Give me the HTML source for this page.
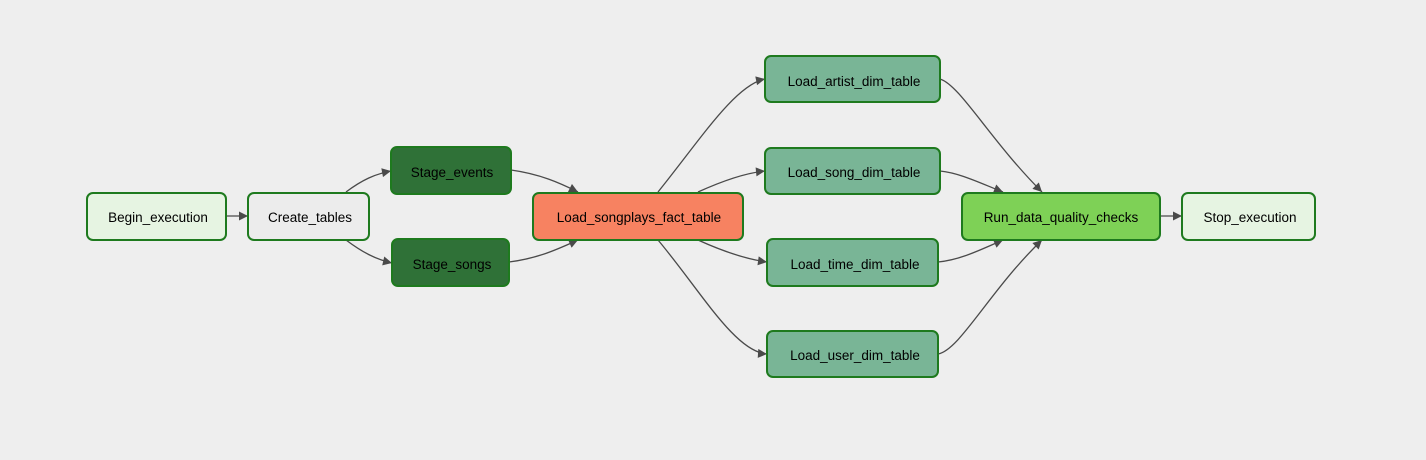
<!DOCTYPE html>
<html><head><meta charset="utf-8"><style>
html,body{margin:0;padding:0;background:#eeeeee;}
svg{display:block;}
text{font-family:"Liberation Sans",Arial,sans-serif;font-size:13.5px;fill:#000;}
</style></head><body>
<svg width="1426" height="460" viewBox="0 0 1426 460" xmlns="http://www.w3.org/2000/svg">
<defs>
<marker id="a" viewBox="0 0 10 10" refX="10" refY="5" markerWidth="10" markerHeight="9" markerUnits="userSpaceOnUse" orient="auto">
<path d="M0,0 L10,5 L0,10 z" fill="#4a4a4a"/></marker>
</defs>
<rect width="1426" height="460" fill="#eeeeee"/>
<g fill="none" stroke="#4a4a4a" stroke-width="1.3" marker-end="url(#a)">
<path d="M226,216 L248,216"/>
<path d="M346,192 C362,180 375,174 391,171"/>
<path d="M346,240 C362,252 375,259 392,263"/>
<path d="M511,170 C540,174 560,183 578,192"/>
<path d="M509,262 C540,258 560,248 578,240"/>
<path d="M658,192 C700,140 735,85 765,79"/>
<path d="M698,192 C720,182 745,173 765,171"/>
<path d="M698,240 C720,250 745,259 767,262"/>
<path d="M658,240 C700,290 735,352 767,354"/>
<path d="M940,79 C960,85 990,140 1042,192"/>
<path d="M940,171 C960,173 980,183 1003,192"/>
<path d="M938,262 C960,260 980,250 1003,240"/>
<path d="M938,354 C960,350 990,290 1042,240"/>
<path d="M1160,216 L1182,216"/>
</g>
<g stroke="#1e7a1e" stroke-width="2">
<rect x="87" y="193" width="139" height="47" rx="6" fill="#e6f4e2"/>
<rect x="248" y="193" width="121" height="47" rx="6" fill="#ececec"/>
<rect x="391" y="147" width="120" height="47" rx="6" fill="#2f7137"/>
<rect x="392" y="239" width="117" height="47" rx="6" fill="#2f7137"/>
<rect x="533" y="193" width="210" height="47" rx="6" fill="#f78261"/>
<rect x="765" y="56" width="175" height="46" rx="6" fill="#79b596"/>
<rect x="765" y="148" width="175" height="46" rx="6" fill="#79b596"/>
<rect x="767" y="239" width="171" height="47" rx="6" fill="#79b596"/>
<rect x="767" y="331" width="171" height="46" rx="6" fill="#79b596"/>
<rect x="962" y="193" width="198" height="47" rx="6" fill="#7ed156"/>
<rect x="1182" y="193" width="133" height="47" rx="6" fill="#e6f4e2"/>
</g>
<g text-anchor="middle">
<text x="158" y="222">Begin_execution</text>
<text x="310" y="222">Create_tables</text>
<text x="452" y="177">Stage_events</text>
<text x="452" y="269">Stage_songs</text>
<text x="639" y="222">Load_songplays_fact_table</text>
<text x="854" y="86">Load_artist_dim_table</text>
<text x="854" y="177">Load_song_dim_table</text>
<text x="855" y="269">Load_time_dim_table</text>
<text x="855" y="360">Load_user_dim_table</text>
<text x="1061" y="222">Run_data_quality_checks</text>
<text x="1250" y="222">Stop_execution</text>
</g>
</svg>
</body></html>
